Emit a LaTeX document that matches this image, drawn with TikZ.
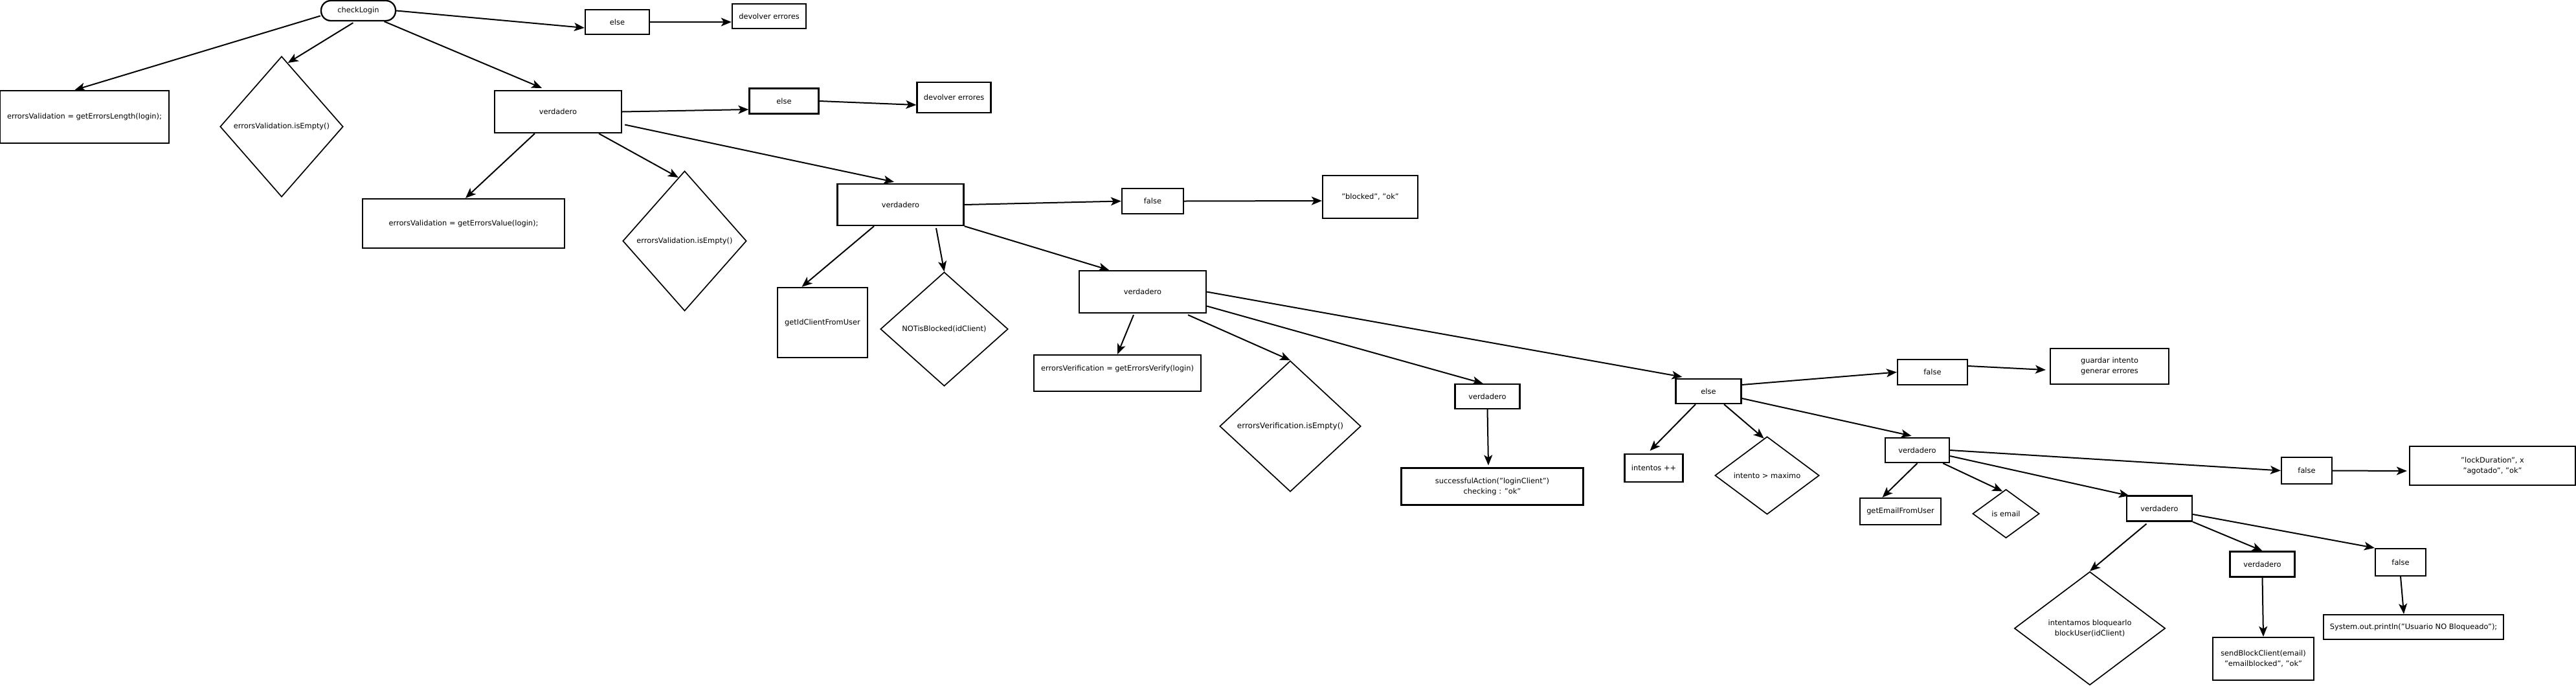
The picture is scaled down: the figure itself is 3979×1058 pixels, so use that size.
\documentclass[tikz,border=0pt]{standalone}
\usepackage{fontspec}
\setmainfont{DejaVu Sans}
\usetikzlibrary{arrows.meta,shapes.geometric,calc}

\begin{document}
\begin{tikzpicture}[
    x=1pt, y=-1pt,
    font=\fontsize{11.4}{16}\selectfont,
    st/.style  = {draw, line width=2.3pt, inner sep=0pt, align=center},
    ter/.style = {st, rounded corners=15pt},
    dec/.style = {diamond, draw, line width=1.7pt, inner sep=0pt, align=center},
    ar/.style  = {-{Stealth[length=16pt,width=13pt,inset=4pt]}, line width=2pt},
]
\useasboundingbox (0,0) rectangle (3979,1058);

%--- inicio
\node[ter, minimum width=115, minimum height=31] (chk) at (553.5,16.5) {checkLogin};
\node[st, minimum width=99,  minimum height=38] (else1) at (953.5,34)  {else};
\node[st, minimum width=114, minimum height=38] (dev1)  at (1188,25)   {devolver errores};
\node[st, minimum width=261, minimum height=81] (vlen)  at (130.5,180.5) {errorsValidation = getErrorsLength(login);};
\node[dec, minimum width=190, minimum height=217] (d1)  at (435,195.5) {errorsValidation.isEmpty()};
\node[st, minimum width=196, minimum height=65] (v1)    at (862,172.5) {verdadero};

%--- segunda validacion
\node[st, minimum width=312, minimum height=76] (vval)  at (716,345)   {errorsValidation = getErrorsValue(login);};
\node[dec, minimum width=191, minimum height=216] (d2)  at (1057.5,372) {errorsValidation.isEmpty()};
\node[st, minimum width=107, minimum height=39] (else2) at (1211,156)  {else};
\node[st, minimum width=114, minimum height=47] (dev2)  at (1473.5,150.5) {devolver errores};
\node[st, minimum width=195, minimum height=64] (v2)    at (1391,316)  {verdadero};

%--- bloqueo
\node[st, minimum width=95,  minimum height=39] (f1)    at (1780.5,310.5) {false};
\node[st, minimum width=147, minimum height=66] (blk)   at (2116.5,304) {"blocked", "ok"};
\node[st, minimum width=139, minimum height=108] (gid)  at (1270.5,498) {getIdClientFromUser};
\node[dec, minimum width=197, minimum height=176] (d3)  at (1458.5,508) {NOTisBlocked(idClient)};
\node[st, minimum width=196, minimum height=65] (v3)    at (1765,450.5) {verdadero};

%--- verificacion
\node[st, minimum width=258, minimum height=56] (ever)  at (1726,576)  {errorsVerification = getErrorsVerify(login)\\\phantom{x}};
\node[dec, minimum width=218, minimum height=202, font=\fontsize{12}{16}\selectfont] (d4) at (1993,658) {errorsVerification.isEmpty()};
\node[st, minimum width=100, minimum height=38] (v4)    at (2297.5,612) {verdadero};
\node[st, minimum width=281, minimum height=57] (succ)  at (2305,751)  {successfulAction("loginClient")\\checking : "ok"};

%--- intentos
\node[st, minimum width=101, minimum height=38] (else3) at (2639,604)  {else};
\node[st, minimum width=90,  minimum height=43] (inc)   at (2554.5,722.5) {intentos ++};
\node[dec, minimum width=161, minimum height=120] (d5)  at (2729.5,734) {intento > maximo};
\node[st, minimum width=108, minimum height=39] (f2)    at (2985,574.5) {false};
\node[st, minimum width=183, minimum height=55] (gua)   at (3258.5,565.5) {guardar intento\\generar errores};
\node[st, minimum width=99,  minimum height=38] (v5)    at (2961.5,695) {verdadero};
\node[st, minimum width=125, minimum height=41] (gem)   at (2935.5,789.5) {getEmailFromUser};
\node[dec, minimum width=103, minimum height=75] (d6)   at (3098.5,793) {is email};
\node[st, minimum width=78,  minimum height=41] (f3)    at (3563,726.5) {false};
\node[st, minimum width=256, minimum height=60] (lock)  at (3850,719)  {"lockDuration", x\\"agotado", "ok"};

%--- bloquear usuario
\node[st, minimum width=101, minimum height=39] (v6)    at (3335.5,785) {verdadero};
\node[dec, minimum width=233, minimum height=175] (d7)  at (3228,970)  {intentamos bloquearlo\\blockUser(idClient)};
\node[st, minimum width=100, minimum height=39] (v7)    at (3494.5,871) {verdadero};
\node[st, minimum width=78,  minimum height=42] (f4)    at (3708,868)  {false};
\node[st, minimum width=156, minimum height=66] (send)  at (3496,1017) {sendBlockClient(email)\\"emailblocked", "ok"};
\node[st, minimum width=278, minimum height=38] (sys)   at (3728,968)  {System.out.println("Usuario NO Bloqueado");};

%--- edges
\draw[ar] ([yshift=-8pt]chk.west) -- ([xshift=-15pt]vlen.north);
\draw[ar] ([xshift=-8pt,yshift=-2pt]chk.south) -- ($(d1.north)!0.1!(d1.east)$);
\draw[ar] ([xshift=40pt]chk.south) -- ([xshift=-25pt,yshift=3pt]v1.north);
\draw[ar] (chk.east) -- ([yshift=-9pt]else1.west);
\draw[ar] (else1.east) -- ([yshift=-9pt]dev1.west);

\draw[ar] (v1.east) -- ([yshift=-13pt]else2.west);
\draw[ar] (else2.east) -- ([yshift=-11.5pt]dev2.west);
\draw[ar] ([xshift=4pt,yshift=-20pt]v1.east) -- ([xshift=-10pt,yshift=2pt]v2.north);
\draw[ar] ([xshift=-36pt]v1.south) -- ([xshift=3pt]vval.north);
\draw[ar] ([xshift=63pt]v1.south) -- ($(d2.north)!0.1!(d2.west)$);

\draw[ar] (v2.east) -- (f1.west);
\draw[ar] (f1.east) -- ([yshift=-6pt]blk.west);
\draw[ar] ([xshift=-41pt]v2.south) -- ([xshift=-32pt]gid.north);
\draw[ar] ([xshift=55pt,yshift=-3pt]v2.south) -- (d3.north);
\draw[ar] (v2.south east) -- ([xshift=-52pt]v3.north);

\draw[ar] ([xshift=-14pt,yshift=-2pt]v3.south) -- (ever.north);
\draw[ar] ([xshift=70pt,yshift=-2pt]v3.south) -- (d4.north);
\draw[ar] ([yshift=-22pt]v3.east) -- ([xshift=-7pt]v4.north);
\draw[ar] (v3.east) -- ([xshift=11pt,yshift=2pt]else3.north west);
\draw[ar] (v4.south) -- ([xshift=-6pt,yshift=3pt]succ.north);

\draw[ar] ([yshift=10pt]else3.east) -- (f2.west);
\draw[ar] ([xshift=-20pt]else3.south) -- ([xshift=-6pt,yshift=4pt]inc.north);
\draw[ar] ([xshift=24pt]else3.south) -- ($(d5.north)!0.06!(d5.west)$);
\draw[ar] ([yshift=-11pt]else3.east) -- ([xshift=-9pt,yshift=2pt]v5.north);
\draw[ar] ([yshift=9.5pt]f2.east) -- ([xshift=-6pt,yshift=-5.5pt]gua.west);

\draw[ar] (v5.south) -- ([xshift=-28pt]gem.north);
\draw[ar] ([xshift=-11pt]v5.south east) -- ($(d6.north)!0.1!(d6.west)$);
\draw[ar] ([yshift=-9pt]v5.east) -- ([xshift=5pt,yshift=-1pt]v6.north west);
\draw[ar] (v5.east) -- (f3.west);
\draw[ar] (f3.east) -- ([xshift=-3pt,yshift=-8pt]lock.west);

\draw[ar] ([xshift=-20pt,yshift=-3pt]v6.south) -- (d7.north);
\draw[ar] (v6.south east) -- (v7.north);
\draw[ar] ([yshift=-9pt]v6.east) -- (f4.north west);
\draw[ar] (v7.south) -- (send.north);
\draw[ar] (f4.south) -- ([xshift=-15pt]sys.north);

\end{tikzpicture}
\end{document}
